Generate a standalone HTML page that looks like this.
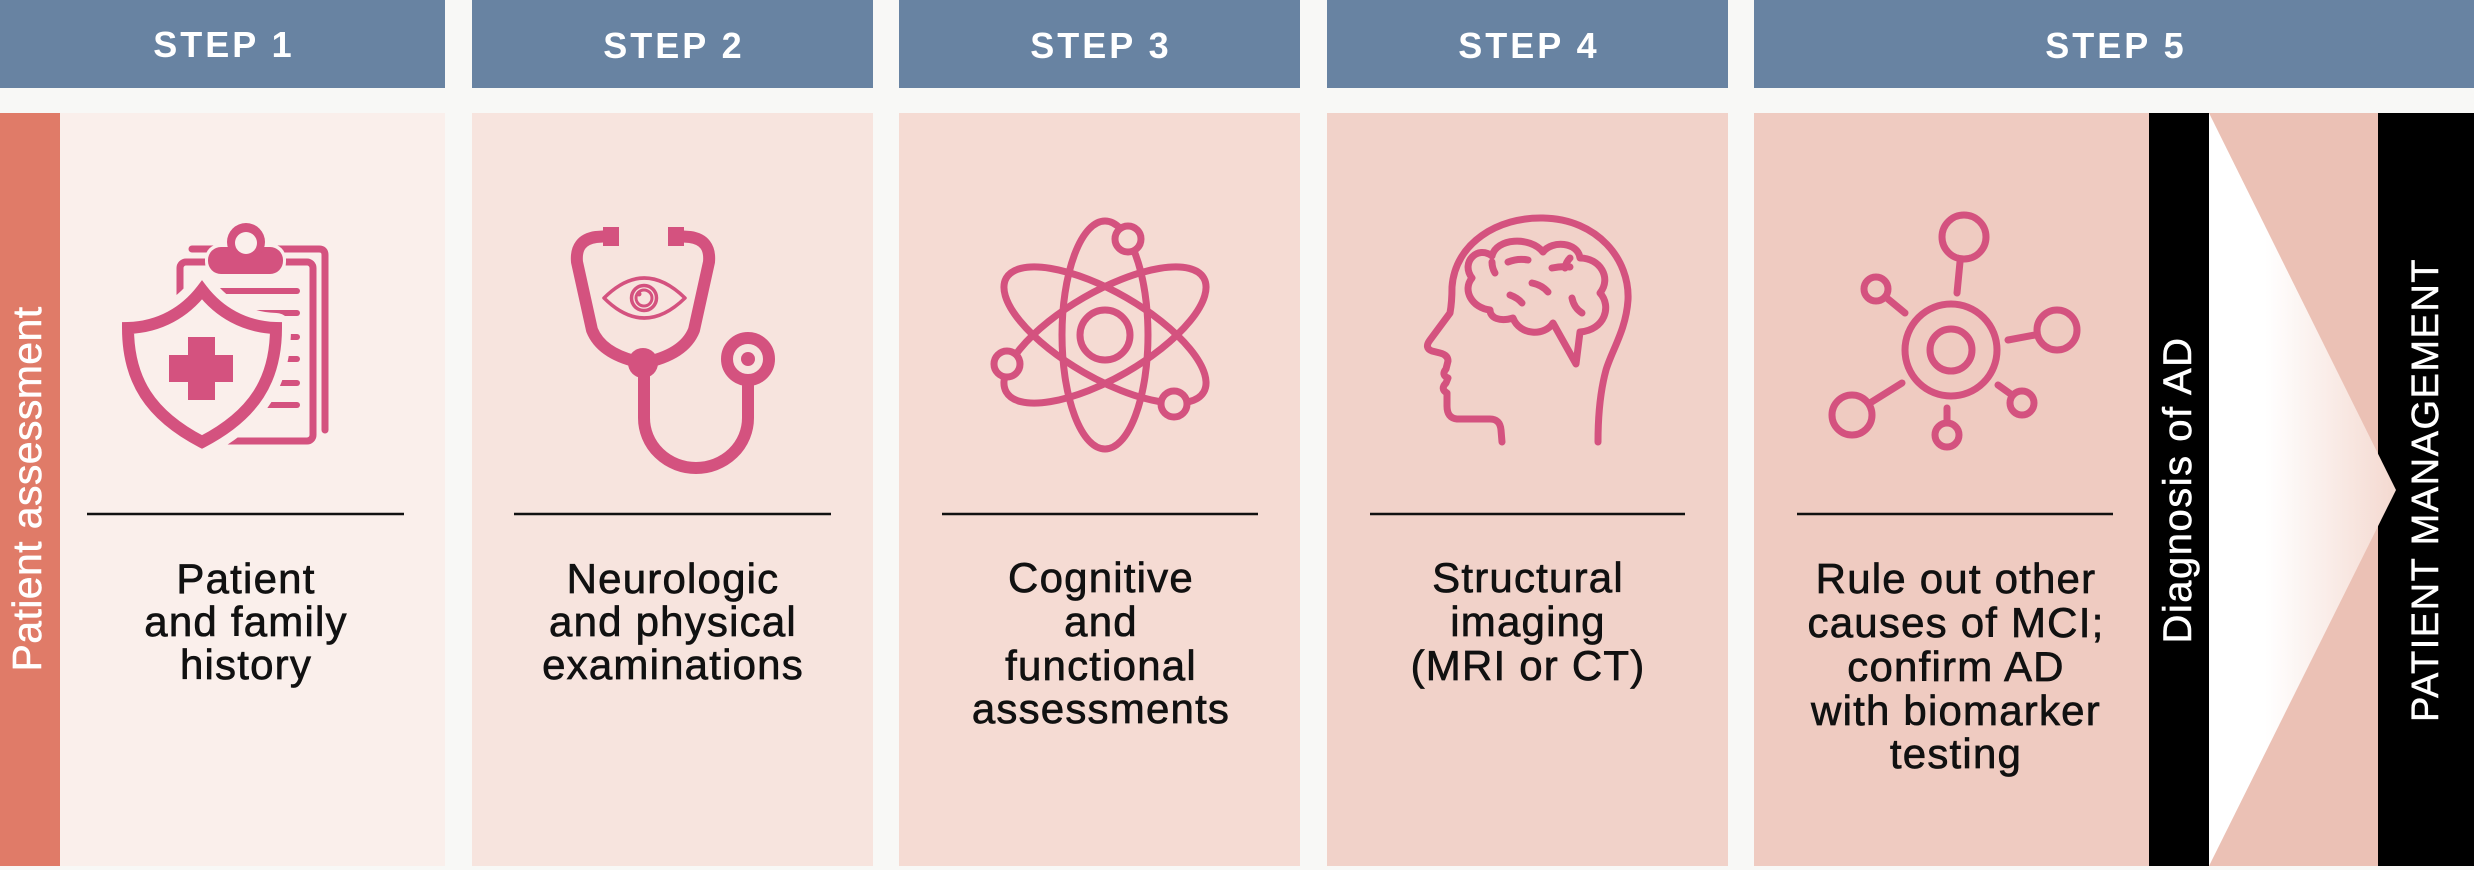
<!DOCTYPE html>
<html>
<head>
<meta charset="utf-8">
<style>
  html,body{margin:0;padding:0;background:#f8f8f6;}
  svg{display:block;}
  .hdr{font-family:"Liberation Sans",Arial,sans-serif;font-weight:bold;font-size:36px;fill:#ffffff;letter-spacing:3px;}
  .body{font-family:"Liberation Sans",Arial,sans-serif;font-size:42px;fill:#111111;stroke:#111111;stroke-width:0.7px;letter-spacing:1.2px;}
  .vt{font-family:"Liberation Sans",Arial,sans-serif;fill:#ffffff;stroke:#ffffff;stroke-width:0.5px;}
  .ic{fill:none;stroke:#d4527f;stroke-linecap:round;stroke-linejoin:round;}
</style>
</head>
<body>
<svg width="2474" height="870" viewBox="0 0 2474 870" xmlns="http://www.w3.org/2000/svg">
  <defs>
    <linearGradient id="tri" x1="0" y1="0" x2="1" y2="0">
      <stop offset="0" stop-color="#ffffff"/>
      <stop offset="0.3" stop-color="#ffffff"/>
      <stop offset="1" stop-color="#f4d9d0"/>
    </linearGradient>
  </defs>
  <rect x="0" y="0" width="2474" height="870" fill="#f8f8f6"/>

  <!-- Headers -->
  <rect x="0" y="0" width="445" height="88" fill="#6883a2"/>
  <rect x="472" y="0" width="401" height="88" fill="#6883a2"/>
  <rect x="899" y="0" width="401" height="88" fill="#6883a2"/>
  <rect x="1327" y="0" width="401" height="88" fill="#6883a2"/>
  <rect x="1754" y="0" width="720" height="88" fill="#6883a2"/>
  <text class="hdr" x="224" y="57" text-anchor="middle">STEP 1</text>
  <text class="hdr" x="674" y="58" text-anchor="middle">STEP 2</text>
  <text class="hdr" x="1101" y="58" text-anchor="middle">STEP 3</text>
  <text class="hdr" x="1529" y="58" text-anchor="middle">STEP 4</text>
  <text class="hdr" x="2116" y="58" text-anchor="middle">STEP 5</text>

  <!-- Body panels -->
  <rect x="0" y="113" width="60" height="753" fill="#e07b68"/>
  <rect x="60" y="113" width="385" height="753" fill="#faefeb"/>
  <rect x="472" y="113" width="401" height="753" fill="#f7e4de"/>
  <rect x="899" y="113" width="401" height="753" fill="#f5dbd3"/>
  <rect x="1327" y="113" width="401" height="753" fill="#f1d2c9"/>
  <rect x="1754" y="113" width="395" height="753" fill="#efcbc1"/>
  <rect x="2149" y="113" width="60" height="753" fill="#000000"/>
  <rect x="2209" y="113" width="169" height="753" fill="#ebc1b5"/>
  <rect x="2378" y="113" width="96" height="753" fill="#000000"/>
  <polygon points="2209,113 2396,490 2209,866" fill="url(#tri)"/>

  <!-- Rotated labels -->
  <text class="vt" font-size="41" letter-spacing="0.4" text-anchor="middle" transform="translate(41,489) rotate(-90)">Patient assessment</text>
  <text class="vt" font-size="40" letter-spacing="1.5" text-anchor="middle" transform="translate(2191,490) rotate(-90)">Diagnosis of AD</text>
  <text class="vt" font-size="38" letter-spacing="1.5" text-anchor="middle" transform="translate(2438,490) rotate(-90)">PATIENT MANAGEMENT</text>

  <!-- Divider lines -->
  <g stroke="#111" stroke-width="2.5">
    <line x1="87" y1="514" x2="404" y2="514"/>
    <line x1="514" y1="514" x2="831" y2="514"/>
    <line x1="942" y1="514" x2="1258" y2="514"/>
    <line x1="1370" y1="514" x2="1685" y2="514"/>
    <line x1="1797" y1="514" x2="2113" y2="514"/>
  </g>

  <!-- Body text -->
  <g class="body" text-anchor="middle">
    <text x="246" y="593">Patient</text>
    <text x="246" y="636">and family</text>
    <text x="246" y="679">history</text>

    <text x="673" y="593">Neurologic</text>
    <text x="673" y="636">and physical</text>
    <text x="673" y="679">examinations</text>

    <text x="1101" y="592">Cognitive</text>
    <text x="1101" y="636">and</text>
    <text x="1101" y="680">functional</text>
    <text x="1101" y="723">assessments</text>

    <text x="1528" y="592">Structural</text>
    <text x="1528" y="636">imaging</text>
    <text x="1528" y="680">(MRI or CT)</text>

    <text x="1956" y="593">Rule out other</text>
    <text x="1956" y="637">causes of MCI;</text>
    <text x="1956" y="681">confirm AD</text>
    <text x="1956" y="725">with biomarker</text>
    <text x="1956" y="768">testing</text>
  </g>

  <!-- ICON 1: clipboard + shield -->
  <g>
    <path class="ic" stroke-width="7" d="M192,249 L319,249 Q325,249 325,255 L325,430"/>
    <rect class="ic" x="180" y="262" width="133" height="179" rx="6" stroke-width="7" style="fill:#faefeb"/>
    <g class="ic" stroke-width="6">
      <line x1="213" y1="291" x2="297" y2="291"/>
      <line x1="213" y1="313" x2="297" y2="313"/>
      <line x1="213" y1="337" x2="297" y2="337"/>
      <line x1="213" y1="359" x2="297" y2="359"/>
      <line x1="213" y1="383" x2="297" y2="383"/>
      <line x1="213" y1="405" x2="297" y2="405"/>
    </g>
    <!-- clip -->
    <g>
      <rect x="205" y="244" width="81" height="33" rx="15" fill="#faefeb"/>
      <circle cx="246" cy="242" r="22" fill="#faefeb"/>
      <rect x="208" y="247" width="75" height="27" rx="13" fill="#d4527f"/>
      <circle cx="246" cy="242" r="19" fill="#d4527f"/>
      <circle cx="246" cy="243" r="11" fill="#faefeb"/>
    </g>
    <!-- shield halo -->
    <path d="M202,290 C185,312 160,327 128,328 C128,380 150,415 202,442 C254,415 276,380 276,328 C244,327 219,312 202,290 Z" fill="#faefeb" stroke="#faefeb" stroke-width="30" stroke-linejoin="round"/>
    <path d="M202,290 C185,312 160,327 128,328 C128,380 150,415 202,442 C254,415 276,380 276,328 C244,327 219,312 202,290 Z" fill="#faefeb" stroke="#d4527f" stroke-width="12" stroke-linejoin="miter"/>
    <rect x="188" y="337" width="27" height="63" fill="#d4527f"/>
    <rect x="169" y="355" width="64" height="27" fill="#d4527f"/>
  </g>

  <!-- ICON 2: stethoscope + eye -->
  <g>
    <path class="ic" stroke-width="12" d="M610,236 L596,237 Q575,240 577,262 L592,330 Q602,355 643,363"/>
    <path class="ic" stroke-width="12" d="M676,236 L690,237 Q711,240 709,262 L694,330 Q684,355 643,363"/>
    <rect x="603" y="227" width="16" height="19" fill="#d4527f"/>
    <rect x="668" y="227" width="16" height="19" fill="#d4527f"/>
    <circle cx="643" cy="363" r="15" fill="#d4527f"/>
    <path class="ic" stroke-width="12" d="M644,372 L644,418 A52,50 0 0 0 748,418 L748,385"/>
    <circle cx="748" cy="359" r="21" fill="#f7e4de" stroke="#d4527f" stroke-width="12"/>
    <circle cx="748" cy="359" r="7" fill="#d4527f"/>
    <!-- eye -->
    <path class="ic" stroke-width="3.5" d="M604,298 Q644,258 685,298 Q644,338 604,298 Z"/>
    <circle cx="644" cy="298" r="12.5" fill="none" stroke="#d4527f" stroke-width="3.5"/>
    <circle cx="644" cy="298" r="8" fill="none" stroke="#d4527f" stroke-width="3"/>
    <circle cx="639" cy="294" r="2.5" fill="#d4527f"/>
  </g>

  <!-- ICON 3: atom -->
  <g class="ic" stroke-width="7">
    <ellipse cx="1105" cy="335" rx="43" ry="114"/>
    <ellipse cx="1105" cy="335" rx="43" ry="114" transform="rotate(60 1105 335)"/>
    <ellipse cx="1105" cy="335" rx="43" ry="114" transform="rotate(-60 1105 335)"/>
    <circle cx="1105" cy="335" r="25"/>
    <circle cx="1128" cy="239" r="13" style="fill:#f5dbd3"/>
    <circle cx="1007" cy="364" r="13" style="fill:#f5dbd3"/>
    <circle cx="1174" cy="404" r="13" style="fill:#f5dbd3"/>
  </g>

  <!-- ICON 4: head + brain -->
  <g class="ic" stroke-width="7">
    <path d="M1502,442 L1501,430 Q1500,419 1490,419 L1457,419 Q1447,418 1447,406 L1447,393 Q1440,389 1446,383 L1448,378 Q1441,375 1446,369 L1448,361 Q1448,355 1440,353 L1432,351 Q1424,348 1430,340 L1450,313 Q1452,302 1452,287 C1455,243 1498,217 1543,218 C1598,219 1630,260 1628,300 C1626,330 1612,350 1606,370 C1600,392 1598,420 1598,442"/>
    <path d="M1490,310 C1472,308 1462,290 1472,278 C1460,262 1478,245 1492,256 C1496,238 1530,236 1543,252 C1552,240 1578,242 1580,258 C1600,258 1612,278 1600,293 C1612,306 1605,330 1580,332 L1576,364 L1553,323 C1545,336 1520,336 1513,318 C1500,322 1490,318 1490,310"/>
    <path d="M1508,262 Q1518,258 1528,260"/>
    <path d="M1532,283 Q1542,285 1548,292"/>
    <path d="M1552,268 Q1562,266 1570,267"/>
    <path d="M1510,295 Q1518,298 1522,303"/>
    <path d="M1572,298 Q1574,308 1582,313"/>
    <path d="M1492,262 Q1492,268 1495,273"/>
    <path d="M1570,258 Q1566,262 1565,268"/>
  </g>

  <!-- ICON 5: network -->
  <g class="ic" stroke-width="7">
    <circle cx="1951" cy="350" r="46"/>
    <circle cx="1951" cy="350" r="21"/>
    <circle cx="1964" cy="237" r="22"/>
    <line x1="1960" y1="262" x2="1957" y2="293"/>
    <circle cx="1876" cy="289" r="12"/>
    <line x1="1888" y1="299" x2="1905" y2="313"/>
    <circle cx="2057" cy="330" r="20"/>
    <line x1="2008" y1="340" x2="2035" y2="335"/>
    <circle cx="2022" cy="403" r="12"/>
    <line x1="1998" y1="385" x2="2012" y2="395"/>
    <circle cx="1947" cy="435" r="12"/>
    <line x1="1947" y1="408" x2="1947" y2="422"/>
    <circle cx="1852" cy="415" r="20"/>
    <line x1="1870" y1="403" x2="1902" y2="383"/>
  </g>
</svg>
</body>
</html>
